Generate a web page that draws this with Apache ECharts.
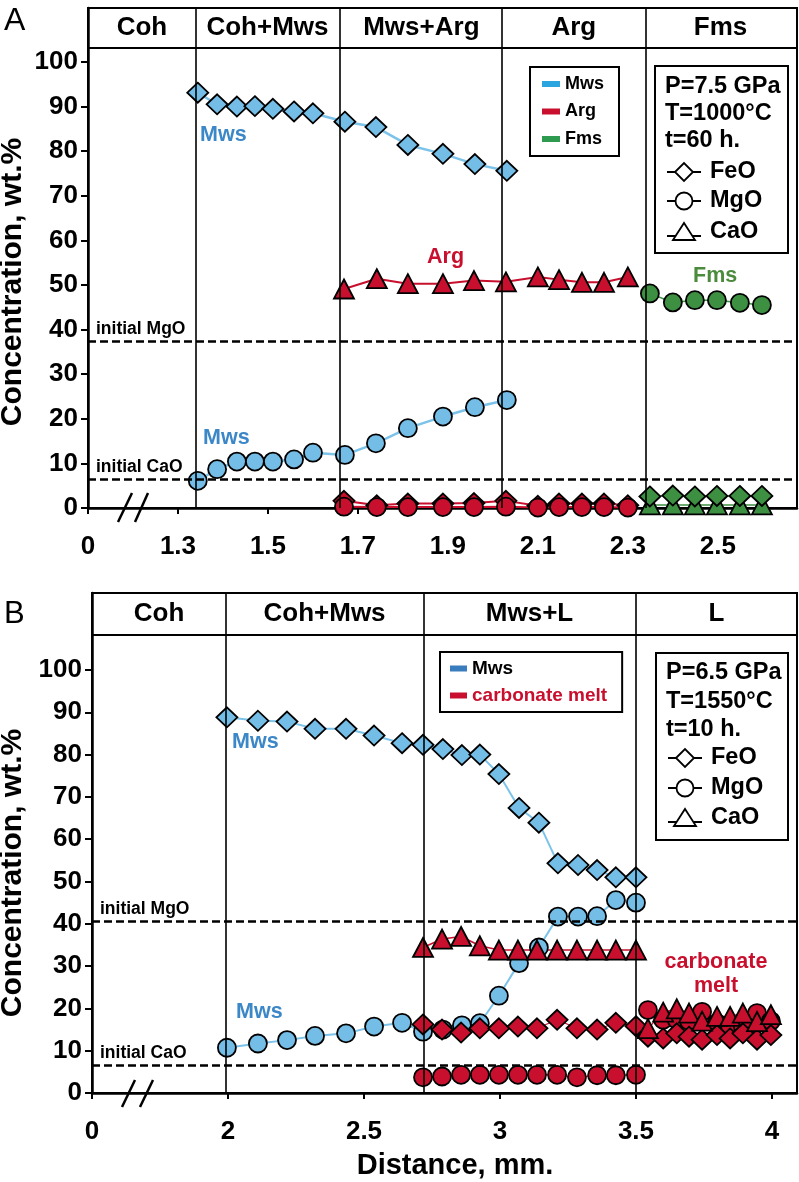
<!DOCTYPE html>
<html><head><meta charset="utf-8">
<script src="https://cdn.jsdelivr.net/npm/echarts@6.0.0/dist/echarts.min.js"></script>
<style>
html,body{margin:0;padding:0;background:#fff;}
#a{position:absolute;left:0;top:0;width:799px;height:585px;}
#b{position:absolute;left:0;top:585px;width:799px;height:597px;}
</style>
</head><body><div id="a"></div><div id="b"></div>
<script>
const FONT = '"Liberation Sans", Arial, Helvetica, sans-serif';
const BLUE_FILL = '#74bde6', BLUE_LINE = '#7cc3ea', BLUE_TEXT = '#3b87c7';
const RED = '#c8102e', GREEN = '#3d8f42', GREEN_TEXT = '#4a8c3c';

// ---------- Panel A data ----------
const tickA = [1.1, 1.3, 1.5, 1.7, 1.9, 2.1, 2.3, 2.5];
const yTicks = [0, 10, 20, 30, 40, 50, 60, 70, 80, 90, 100];
const phasesA = ['Coh', 'Coh+Mws', 'Mws+Arg', 'Arg', 'Fms'];
const boundsA = [1.1, 1.34, 1.658, 2.024, 2.336, 2.676];
const initLevelsA = [37.4, 6.5];
const initNames = ['initial MgO', 'initial CaO'];

const xA_Mws = [1.344, 1.387, 1.431, 1.471, 1.511, 1.558, 1.600, 1.671, 1.740, 1.811, 1.889, 1.960, 2.031];
const yA_MwsFeO = [93.1, 90.5, 90.0, 90.1, 89.5, 88.9, 88.5, 86.6, 85.4, 81.4, 79.4, 77.1, 75.6];
const yA_MwsMgO = [6.1, 8.7, 10.4, 10.4, 10.4, 10.9, 12.4, 11.9, 14.5, 17.9, 20.5, 22.6, 24.2];

const xA_Arg = [1.669, 1.742, 1.811, 1.889, 1.958, 2.029, 2.100, 2.147, 2.198, 2.247, 2.300];
const yA_ArgCaO = [49.1, 51.4, 50.3, 50.3, 51.0, 50.7, 51.8, 51.2, 50.6, 50.6, 51.8];
const yA_ArgFeO = [1.6, 0.6, 1.0, 1.0, 1.1, 1.6, 0.5, 1.0, 1.0, 1.0, 0.6];
const yA_ArgMgO = [0.3, 0.2, 0.2, 0.2, 0.2, 0.3, 0.1, 0.2, 0.2, 0.2, 0.1];

const xA_Fms = [2.349, 2.400, 2.449, 2.498, 2.549, 2.598];
const yA_FmsMgO = [48.1, 46.1, 46.6, 46.6, 46.0, 45.5];
const yA_FmsCaO = [0.7, 0.7, 0.7, 0.7, 0.7, 0.7];
const yA_FmsFeO = [2.6, 2.8, 2.6, 2.7, 2.7, 2.7];

// ---------- Panel B data ----------
const tickB = [1.5, 2, 2.5, 3, 3.5, 4];
const phasesB = ['Coh', 'Coh+Mws', 'Mws+L', 'L'];
const boundsB = [1.5, 1.993, 2.717, 3.5, 4.092];
const initLevelsB = [40.7, 6.6];

const xB_Mws = [1.996, 2.110, 2.217, 2.320, 2.434, 2.537, 2.640, 2.717, 2.790, 2.860, 2.926, 2.996, 3.070, 3.143, 3.213, 3.287, 3.357, 3.426, 3.500];
const yB_MwsFeO = [88.8, 88.0, 87.8, 86.1, 86.1, 84.5, 82.7, 82.3, 81.3, 79.9, 80.0, 75.4, 67.4, 63.9, 54.3, 53.9, 52.7, 51.0, 51.0];
const yB_MwsMgO = [10.7, 11.7, 12.5, 13.5, 14.1, 15.7, 16.6, 14.5, 15.0, 16.0, 16.5, 23.0, 30.7, 34.4, 41.7, 41.7, 41.8, 45.6, 45.0];

const xB_Melt1 = [2.717, 2.787, 2.857, 2.926, 2.996, 3.066, 3.136, 3.210, 3.283, 3.357, 3.426, 3.500];
const yB_Melt1CaO = [34.4, 36.4, 37.0, 34.8, 33.8, 33.8, 33.8, 33.8, 33.8, 33.8, 33.8, 33.8];
const yB_Melt1FeO = [16.2, 15.0, 14.3, 15.3, 15.3, 15.7, 15.3, 17.3, 15.3, 15.0, 16.6, 15.8];
const yB_Melt1MgO = [3.7, 3.9, 4.3, 4.3, 4.3, 4.3, 4.3, 4.3, 3.7, 4.2, 4.2, 4.3];

const xB_Melt2 = [3.544, 3.600, 3.650, 3.695, 3.743, 3.798, 3.846, 3.893, 3.945, 3.996];
const yB_Melt2MgO = [19.6, 17.3, 17.3, 17.0, 19.2, 16.5, 15.7, 15.7, 18.9, 17.0];
const yB_Melt2CaO = [15.2, 19.1, 19.9, 18.9, 17.0, 18.1, 18.1, 18.9, 16.9, 18.5];
const yB_Melt2FeO = [13.3, 12.9, 14.1, 13.3, 12.6, 13.7, 12.9, 14.1, 12.6, 13.7];

// ---------- helpers ----------
function pts(xs, ys) { return xs.map((x, i) => [x, ys[i]]); }
const SYM = { FeO: ['diamond', [21, 20]], MgO: ['circle', 18], CaO: ['triangle', [20, 19]] };
function dataSeries(name, xs, ys, oxide, fill, line, lw) {
  return {
    type: 'line', name: name, data: pts(xs, ys), symbol: SYM[oxide][0], symbolSize: SYM[oxide][1],
    showSymbol: true, showAllSymbol: true, z: 3, silent: true,
    itemStyle: { color: fill, borderColor: '#000', borderWidth: 1.8, opacity: 1 },
    lineStyle: { color: line, width: lw }
  };
}
function legendSeries(name, color) {
  return { type: 'line', name: name, data: [], itemStyle: { color: color }, lineStyle: { color: color } };
}
function txt(x, y, text, size, color, opts) {
  opts = opts || {};
  return {
    type: 'text', x: x, y: y, rotation: opts.rotation || 0, z: 50,
    style: {
      text: text, fill: color, font: (opts.weight || 'bold') + ' ' + size + 'px ' + FONT,
      textAlign: opts.align || 'left', textVerticalAlign: 'middle', align: opts.align || 'left', verticalAlign: 'middle'
    }
  };
}
function seg(x1, y1, x2, y2, w) {
  return { type: 'line', z: 50, shape: { x1: x1, y1: y1, x2: x2, y2: y2 }, style: { stroke: '#000', lineWidth: w } };
}
function infoBox(bx, by, bw, bh, texts, textYs, symYs) {
  const els = [{ type: 'rect', z: 40, shape: { x: bx, y: by, width: bw, height: bh }, style: { fill: '#fff', stroke: '#000', lineWidth: 2 } }];
  texts.forEach((t, i) => els.push(txt(bx + 10, textYs[i], t, 23.5, '#000')));
  const cx = bx + 29;
  const names = ['FeO', 'MgO', 'CaO'];
  symYs.forEach((cy, i) => {
    const ly = i === 2 ? cy + 4 : cy;
    els.push(seg(bx + 12, ly, bx + 46, ly, 1.8));
    let shp;
    if (i === 0) shp = { type: 'polygon', z: 51, shape: { points: [[cx - 9, cy], [cx, cy - 9], [cx + 9, cy], [cx, cy + 9]] } };
    else if (i === 1) shp = { type: 'circle', z: 51, shape: { cx: cx, cy: cy, r: 8.5 } };
    else shp = { type: 'polygon', z: 51, shape: { points: [[cx - 11, cy + 8], [cx, cy - 9], [cx + 11, cy + 8]] } };
    shp.style = { fill: '#fff', stroke: '#000', lineWidth: 1.8 };
    els.push(shp);
    els.push(txt(bx + 55, cy, names[i], 23.5, '#000'));
  });
  return els;
}

function buildPanel(P) {
  const ml = [];
  P.bounds.slice(1, -1).forEach(v => ml.push({ xAxis: v, lineStyle: { color: '#000', width: 1.6, type: 'solid' }, label: { show: false } }));
  ml.push({ yAxis: P.headerY, lineStyle: { color: '#000', width: 2, type: 'solid' }, label: { show: false } });
  P.initLevels.forEach((v, i) => ml.push({
    yAxis: v, name: initNames[i], lineStyle: { color: '#000', width: 2.5, type: [8, 4] },
    label: { show: true, position: 'insideStartTop', formatter: '{b}', color: '#000', fontSize: 17.5, fontWeight: 'bold', fontFamily: FONT, distance: [8, 3] }
  }));
  const ma = P.phases.map((n, i) => [{ name: n, coord: [P.bounds[i], P.headerY] }, { coord: [P.bounds[i + 1], P.yMax] }]);
  const series = [{
    type: 'line', name: 'frame', data: [], z: 1, silent: true,
    markLine: { symbol: 'none', silent: true, animation: false, data: ml },
    markArea: { silent: true, itemStyle: { color: 'rgba(0,0,0,0)' }, label: { show: true, position: 'inside', color: '#000', fontSize: 26, fontWeight: 'bold', fontFamily: FONT }, data: ma }
  }].concat(P.legendSeries, P.series);
  return {
    animation: false,
    grid: { left: P.left, top: P.top, width: P.width, height: P.height, show: true, borderColor: '#000', borderWidth: 2, backgroundColor: 'rgba(0,0,0,0)' },
    xAxis: {
      type: 'value', min: P.xMin, max: P.xMax,
      axisLine: { show: true, onZero: false, lineStyle: { color: '#000', width: 2.5 } },
      axisTick: { show: true, length: 6, lineStyle: { color: '#000', width: 2 }, customValues: P.xTicks },
      axisLabel: { customValues: P.xTicks, formatter: v => (Math.abs(v - P.xMin) < 1e-6 ? '0' : P.fmt(v)), fontSize: 26, fontWeight: 'bold', color: '#000', fontFamily: FONT, margin: P.xLabelMargin },
      splitLine: { show: false }
    },
    yAxis: {
      type: 'value', min: 0, max: P.yMax,
      axisLine: { show: true, lineStyle: { color: '#000', width: 2.5 } },
      axisTick: { show: true, length: 7, lineStyle: { color: '#000', width: 2 }, customValues: yTicks },
      axisLabel: { customValues: yTicks, fontSize: 26, fontWeight: 'bold', color: '#000', fontFamily: FONT, margin: 10 },
      splitLine: { show: false }
    },
    legend: P.legend,
    series: series,
    graphic: { elements: P.graphic }
  };
}

// ---------- Panel A ----------
const optA = buildPanel({
  left: 88, top: 8, width: 709, height: 500, xMin: 1.1, xMax: 2.676, yMax: 112.1, headerY: 103.1,
  xTicks: tickA, fmt: v => v.toFixed(1), xLabelMargin: 26,
  phases: phasesA, bounds: boundsA, initLevels: initLevelsA,
  legend: {
    orient: 'vertical', left: 530, top: 67, icon: 'rect', itemWidth: 18, itemHeight: 6, itemGap: 9.5,
    padding: [8, 15, 8, 12], borderColor: '#000', borderWidth: 2, selectedMode: false, backgroundColor: '#fff',
    textStyle: { fontFamily: FONT, fontWeight: 'bold', fontSize: 18, color: '#000', lineHeight: 18 },
    data: ['Mws', 'Arg', 'Fms']
  },
  legendSeries: [legendSeries('Mws', '#2aa5e0'), legendSeries('Arg', RED), legendSeries('Fms', '#2e9a50')],
  series: [
    dataSeries('Mws FeO', xA_Mws, yA_MwsFeO, 'FeO', BLUE_FILL, BLUE_LINE, 2.5),
    dataSeries('Mws MgO', xA_Mws, yA_MwsMgO, 'MgO', BLUE_FILL, BLUE_LINE, 2.5),
    dataSeries('Arg CaO', xA_Arg, yA_ArgCaO, 'CaO', RED, RED, 2),
    dataSeries('Arg FeO', xA_Arg, yA_ArgFeO, 'FeO', RED, RED, 2),
    dataSeries('Arg MgO', xA_Arg, yA_ArgMgO, 'MgO', RED, RED, 2),
    dataSeries('Fms MgO', xA_Fms, yA_FmsMgO, 'MgO', GREEN, GREEN, 1.5),
    dataSeries('Fms CaO', xA_Fms, yA_FmsCaO, 'CaO', GREEN, GREEN, 1.5),
    dataSeries('Fms FeO', xA_Fms, yA_FmsFeO, 'FeO', GREEN, GREEN, 1.5)
  ],
  graphic: [
    txt(4, 21, 'A', 32, '#000', { weight: 'normal' }),
    txt(13, 282, 'Concentration, wt.%', 30, '#000', { rotation: Math.PI / 2, align: 'center' }),
    txt(200, 135, 'Mws', 21.5, BLUE_TEXT),
    txt(203, 438, 'Mws', 21.5, BLUE_TEXT),
    txt(427, 257, 'Arg', 21.5, RED),
    txt(693, 276, 'Fms', 21.5, GREEN_TEXT),
    seg(118, 522, 132, 493, 2.5), seg(135, 522, 148, 493, 2.5)
  ].concat(infoBox(655, 66, 133, 187, ['P=7.5 GPa', 'T=1000°C', 't=60 h.'], [87, 114, 141], [172, 201, 232]))
});

// ---------- Panel B ----------
const optB = buildPanel({
  left: 92, top: 8, width: 705, height: 500, xMin: 1.5, xMax: 4.092, yMax: 118.2, headerY: 108.3,
  xTicks: tickB, fmt: v => String(v), xLabelMargin: 26,
  phases: phasesB, bounds: boundsB, initLevels: initLevelsB,
  legend: {
    orient: 'vertical', left: 440, top: 67, icon: 'rect', itemWidth: 17, itemHeight: 6, itemGap: 8,
    padding: [7, 15, 7, 10], borderColor: '#000', borderWidth: 2, selectedMode: false, backgroundColor: '#fff',
    textStyle: { fontFamily: FONT, fontWeight: 'bold', fontSize: 19, color: '#000', lineHeight: 19 },
    data: [{ name: 'Mws', textStyle: { color: '#000' } }, { name: 'carbonate melt', textStyle: { color: RED } }]
  },
  legendSeries: [legendSeries('Mws', '#3a7dbf'), legendSeries('carbonate melt', RED)],
  series: [
    dataSeries('Mws FeO', xB_Mws, yB_MwsFeO, 'FeO', BLUE_FILL, BLUE_LINE, 2),
    dataSeries('Mws MgO', xB_Mws, yB_MwsMgO, 'MgO', BLUE_FILL, BLUE_LINE, 2),
    dataSeries('melt CaO', xB_Melt1, yB_Melt1CaO, 'CaO', RED, RED, 1.5),
    dataSeries('melt FeO', xB_Melt1, yB_Melt1FeO, 'FeO', RED, RED, 1.2),
    dataSeries('melt MgO', xB_Melt1, yB_Melt1MgO, 'MgO', RED, RED, 1.2),
    dataSeries('melt L MgO', xB_Melt2, yB_Melt2MgO, 'MgO', RED, RED, 1.2),
    dataSeries('melt L FeO', xB_Melt2, yB_Melt2FeO, 'FeO', RED, RED, 1.2),
    dataSeries('melt L CaO', xB_Melt2, yB_Melt2CaO, 'CaO', RED, RED, 1.2)
  ],
  graphic: [
    txt(4, 29, 'B', 31, '#000', { weight: 'normal' }),
    txt(13, 288, 'Concentration, wt.%', 30, '#000', { rotation: Math.PI / 2, align: 'center' }),
    txt(455, 581, 'Distance, mm.', 29, '#000', { align: 'center' }),
    txt(232, 157, 'Mws', 21.5, BLUE_TEXT),
    txt(236, 427, 'Mws', 21.5, BLUE_TEXT),
    txt(716, 377, 'carbonate', 21.5, RED, { align: 'center' }),
    txt(716, 401, 'melt', 21.5, RED, { align: 'center' }),
    seg(122, 522, 135, 495, 2.5), seg(140, 522, 153, 495, 2.5)
  ].concat(infoBox(656, 68, 132, 187, ['P=6.5 GPa', 'T=1550°C', 't=10 h.'], [88, 117, 145], [173, 203, 233]))
});

echarts.init(document.getElementById('a'), null, { renderer: 'canvas' }).setOption(optA);
echarts.init(document.getElementById('b'), null, { renderer: 'canvas' }).setOption(optB);
</script></body></html>
